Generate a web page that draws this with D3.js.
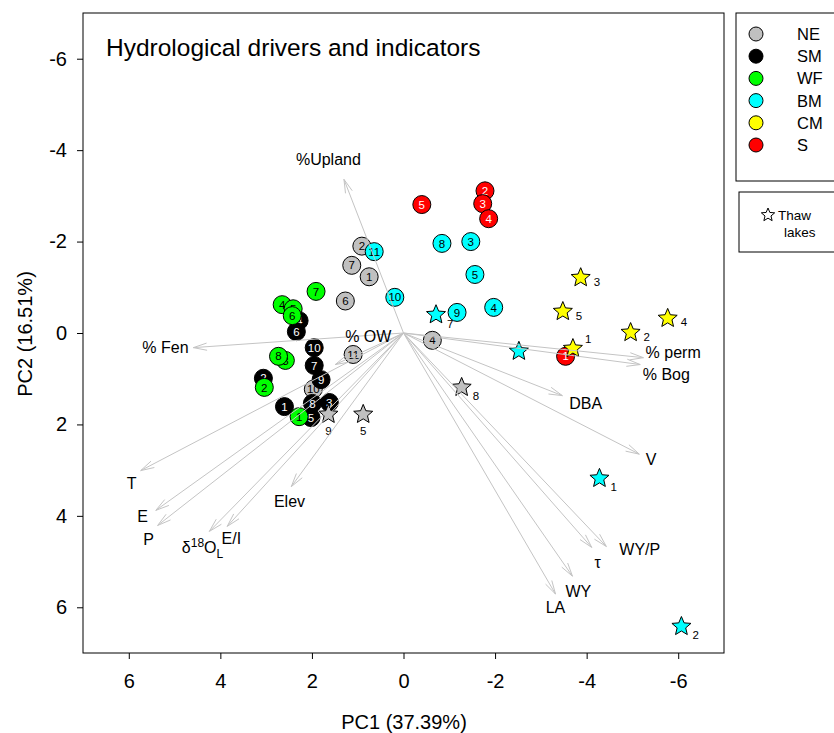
<!DOCTYPE html>
<html><head><meta charset="utf-8">
<script src="https://cdn.jsdelivr.net/npm/d3@7"></script>
<style>body{margin:0;background:#fff}svg{display:block;font-family:"Liberation Sans",Arial,sans-serif}</style>
</head><body><svg id="c" width="834" height="733"></svg>
<script>
// ---------- data ----------
const groups = ["NE","SM","WF","BM","CM","S"];
const groupColors = ["#c0c0c0","#000000","#00ff00","#00ffff","#ffff00","#ff0000"];
const groupTextColors = ["#000","#fff","#000","#000","#000","#fff"];

// site circles: [group, id, PC1, PC2]
const sitesNE = [["NE","1",0.75,-1.23],["NE","2",0.91,-1.90],["NE","4",-0.63,0.16],["NE","6",1.27,-0.70],["NE","7",1.13,-1.48],["NE","10",1.97,1.23],["NE","11",1.10,0.47]];
const sitesSM = [["SM","1",2.60,1.61],["SM","2",3.06,0.99],["SM","3",1.62,1.52],["SM","4",2.28,-0.27],["SM","5",2.02,1.85],["SM","6",2.34,-0.03],["SM","7",1.95,0.71],["SM","8",1.99,1.54],["SM","9",1.80,1.02],["SM","10",1.95,0.32]];
const sitesWF = [["WF","1",2.28,1.83],["WF","2",3.04,1.19],["WF","3",2.58,0.60],["WF","4",2.65,-0.62],["WF","5",2.41,-0.53],["WF","6",2.43,-0.38],["WF","7",1.91,-0.91],["WF","8",2.73,0.51]];
const sitesBM = [["BM","3",-1.47,-2.00],["BM","4",-1.97,-0.56],["BM","5",-1.56,-1.28],["BM","8",-0.84,-1.96],["BM","9",-1.17,-0.45],["BM","10",0.19,-0.78],["BM","11",0.64,-1.78]];
const sitesS = [["S","2",-1.78,-3.11],["S","3",-1.73,-2.83],["S","4",-1.86,-2.50],["S","5",-0.40,-2.81],["S","1",-3.54,0.51]];

// thaw lakes (stars): [group, id, PC1, PC2, label side]
const thawLakes = [["NE","5",0.88,1.78,"below"],["NE","8",-1.27,1.19,"lowright"],["NE","9",1.64,1.78,"below"],
  ["BM","1",-4.28,3.18,"lowright"],["BM","2",-6.07,6.42,"lowright"],["BM","7",-0.71,-0.40,"lowright"],["BM","",-2.52,0.40,"right"],
  ["CM","1",-3.70,0.34,"above"],["CM","2",-4.96,-0.01,"right"],["CM","3",-3.87,-1.21,"right"],["CM","4",-5.77,-0.32,"right"],["CM","5",-3.48,-0.47,"right"]];

// loadings: name, tip PC1, tip PC2, label PC1, label PC2
const loadNames = ["%Upland","% Fen","% OW","T","E","P","d18O","E/I","Elev","% perm","% Bog","DBA","V","WY/P","tau","WY","LA"];
const loadX = [1.30,4.59,1.49,5.74,5.41,5.37,4.24,3.85,2.45,-5.24,-5.17,-3.47,-5.15,-4.43,-4.11,-3.69,-3.32];
const loadY = [-3.36,0.32,0.69,3.01,3.88,4.21,4.34,4.23,3.36,0.54,0.69,1.37,2.65,4.67,4.69,5.32,5.71];
const labelX = [1.64,5.20,0.77,5.94,5.70,5.57,4.39,3.76,2.49,-5.89,-5.74,-3.98,-5.41,-5.16,-4.24,-3.82,-3.32];
const labelY = [-3.79,0.32,0.08,3.29,4.01,4.51,4.69,4.49,3.68,0.42,0.91,1.54,2.77,4.73,5.02,5.65,6.00];

const ticks = [6,4,2,0,-2,-4,-6];
const title = "Hydrological drivers and indicators";
const xTitle = "PC1 (37.39%)";
const yTitle = "PC2 (16.51%)";

// ---------- drawing ----------
const svg = d3.select("#c");
const L=83,R=724,T=13,B=653;
const x = d3.scaleLinear().domain([7,-7]).range([L,R]);
const y = d3.scaleLinear().domain([-7,7]).range([T,B]);

svg.append("rect").attr("x",L).attr("y",T).attr("width",R-L).attr("height",B-T)
  .attr("fill","none").attr("stroke","#000").attr("stroke-width",1);

const xa = svg.append("g").attr("transform",`translate(0,${B})`)
  .call(d3.axisBottom(x).tickValues(ticks).tickSize(6).tickPadding(15).tickFormat(d3.format("d")));
const ya = svg.append("g").attr("transform",`translate(${L},0)`)
  .call(d3.axisLeft(y).tickValues(ticks).tickSize(6).tickPadding(10).tickFormat(d3.format("d")));
[xa,ya].forEach(a=>{a.select(".domain").remove();
  a.selectAll("text").attr("font-size",20).attr("font-family","Liberation Sans, Arial").attr("fill","#000");
  a.selectAll("line").attr("stroke","#000");});
ya.selectAll("text").text(d=>d<0?"-"+Math.abs(d):d);
xa.selectAll("text").text(d=>d<0?"-"+Math.abs(d):d);

svg.append("text").attr("x",404).attr("y",729).attr("text-anchor","middle").attr("font-size",20).text(xTitle);
svg.append("text").attr("transform","translate(32,334) rotate(-90)").attr("text-anchor","middle").attr("font-size",20).text(yTitle);
svg.append("text").attr("x",106).attr("y",56).attr("font-size",24.5).text(title);

const colorOf = g=>groupColors[groups.indexOf(g)];
const textColorOf = g=>groupTextColors[groups.indexOf(g)];

function starPath(r){
  const pts=[];
  for(let i=0;i<10;i++){const a=-Math.PI/2+i*Math.PI/5;const rr=i%2?r*0.45:r;pts.push([rr*Math.cos(a),rr*Math.sin(a)]);}
  return "M"+pts.map(p=>p.join(",")).join("L")+"Z";
}

const plot = svg.append("g");
const sites = [...sitesNE,...sitesSM,...sitesWF,...sitesBM,...sitesS];
const sg = plot.selectAll("g.site").data(sites).join("g").attr("transform",d=>`translate(${x(d[2])},${y(d[3])})`);
sg.append("circle").attr("r",9).attr("fill",d=>colorOf(d[0])).attr("stroke","#000").attr("stroke-width",1);
sg.append("text").attr("text-anchor","middle").attr("dy","0.36em").attr("font-size",11.5)
  .attr("fill",d=>textColorOf(d[0])).text(d=>d[1]);

const side = {below:[0,21,"middle"],above:[12,-6,"start"],right:[13,8,"start"],lowright:[11,13,"start"]};
const tg = plot.selectAll("g.star").data(thawLakes).join("g").attr("transform",d=>`translate(${x(d[2])},${y(d[3])})`);
tg.append("path").attr("d",starPath(10)).attr("fill",d=>colorOf(d[0])).attr("stroke","#000").attr("stroke-width",1);
tg.append("text").attr("font-size",11.5).attr("fill","#000")
  .attr("x",d=>side[d[4]][0]).attr("y",d=>side[d[4]][1])
  .attr("text-anchor",d=>side[d[4]][2]).text(d=>d[1]);

// loadings arrows
const ag = svg.append("g").attr("stroke","#c4c4c4").attr("stroke-width",1).attr("fill","none");
const ox=x(0), oy=y(0);
loadNames.forEach((n,i)=>{
  const tx=x(loadX[i]), ty=y(loadY[i]);
  ag.append("line").attr("x1",ox).attr("y1",oy).attr("x2",tx).attr("y2",ty);
  const ang=Math.atan2(ty-oy,tx-ox), len=14, half=0.26;
  [ -half, half ].forEach(h=>{
    ag.append("line").attr("x1",tx).attr("y1",ty)
      .attr("x2",tx-len*Math.cos(ang+h)).attr("y2",ty-len*Math.sin(ang+h));
  });
});
const lg = svg.append("g").attr("font-size",16).attr("fill","#000");
loadNames.forEach((n,i)=>{
  const t = lg.append("text").attr("x",x(labelX[i])).attr("y",y(labelY[i])).attr("dy","0.35em").attr("text-anchor","middle");
  if(n==="d18O"){
    t.append("tspan").text("δ");
    t.append("tspan").attr("font-size",12).attr("dy","-6").text("18");
    t.append("tspan").attr("dy","6").text("O");
    t.append("tspan").attr("font-size",12).attr("dy","5").text("L");
  } else if(n==="tau"){ t.text("τ"); }
  else t.text(n);
});

// legends
const leg = svg.append("g");
leg.append("rect").attr("x",736).attr("y",13).attr("width",130).attr("height",168).attr("fill","#fff").attr("stroke","#000");
groups.forEach((g,i)=>{
  const yy=34+i*22.2;
  leg.append("circle").attr("cx",756).attr("cy",yy).attr("r",7).attr("fill",groupColors[i]).attr("stroke","#000");
  leg.append("text").attr("x",797).attr("y",yy).attr("dy","0.36em").attr("font-size",16.5).text(g);
});
leg.append("rect").attr("x",739).attr("y",192).attr("width",130).attr("height",60).attr("fill","#fff").attr("stroke","#000");
leg.append("path").attr("d",starPath(7)).attr("transform","translate(768,215)").attr("fill","#fff").attr("stroke","#000");
leg.append("text").attr("x",778).attr("y",215).attr("dy","0.36em").attr("font-size",13.5).text("Thaw");
leg.append("text").attr("x",784).attr("y",232).attr("dy","0.36em").attr("font-size",13.5).text("lakes");
</script></body></html>
